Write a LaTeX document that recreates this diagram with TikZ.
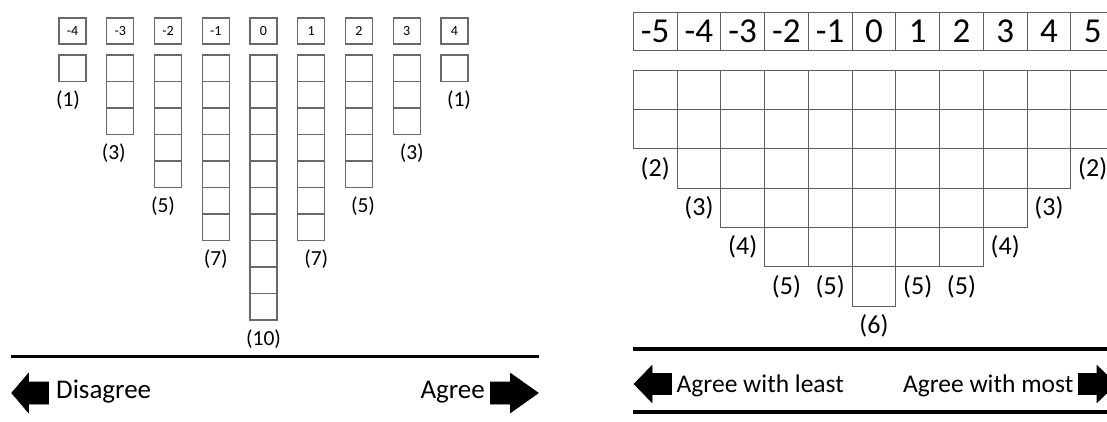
\documentclass[tikz,border=0pt]{standalone}
\usepackage{fontspec}
\setmainfont{Carlito}
\definecolor{boxgray}{RGB}{105,105,105}
\definecolor{gridgray}{RGB}{95,95,95}
\begin{document}
\begin{tikzpicture}[x=1pt,y=-1pt,
  lhead/.style={draw=boxgray,line width=1.1pt,minimum width=27pt,minimum height=26pt,inner sep=0pt,outer sep=0pt,font=\fontsize{14}{16}\selectfont},
  lcell/.style={draw=boxgray,line width=1.1pt,minimum width=27pt,minimum height=26.5pt,inner sep=0pt,outer sep=0pt},
  llab/.style={inner sep=0pt,font=\fontsize{21.5}{25}\selectfont},
  rhead/.style={draw=gridgray,line width=0.9pt,minimum width=43.75pt,minimum height=38pt,inner sep=0pt,outer sep=0pt,font=\fontsize{35}{40}\selectfont},
  rcell/.style={draw=gridgray,line width=0.9pt,minimum width=43.75pt,minimum height=39.33pt,inner sep=0pt,outer sep=0pt},
  rlab/.style={inner sep=0pt,font=\fontsize{26}{30}\selectfont},
  btext/.style={inner sep=0pt,font=\fontsize{27}{32}\selectfont},
  rbtext/.style={inner sep=0pt,font=\fontsize{25.5}{30}\selectfont},
  bar/.style={line width=3.2pt,black},
  blockarrow/.style={fill=black,draw=black,line width=0.6pt,line join=miter}
]
\useasboundingbox (0,0) rectangle (1107,421);
\clip (0,0) rectangle (1107,421);

% ---------- left diagram ----------
\foreach \v/\cnt/\dx [count=\i from 0] in {-4/1/-4.5,-3/3/-6.5,-2/5/-5,-1/7/0,0/10/0,1/7/5,2/5/4,3/3/5,4/1/4.5}{
  \pgfmathsetmacro{\cx}{59+47.75*\i+13.5}
  \node[lhead] (LH\i) at (\cx,31) {\v};
  \foreach \r in {1,...,\cnt}{
    \node[lcell] (LC\i-\r) at (\cx,{55+26.5*(\r-0.5)}) {};
  }
  \node[llab] (LL\i) at ({\cx+\dx},{55+26.5*\cnt+19}) {(\cnt)};
}
\coordinate (lbarA) at (11,356.7);
\coordinate (lbarB) at (538.5,356.7);
\draw[bar] (lbarA) -- (lbarB);
% left arrow
\draw[blockarrow] (11.7,393) -- (28.5,373.3) -- (28.5,382) -- (48.5,382) -- (48.5,404) -- (28.5,404) -- (28.5,412.7) -- cycle;
\node[btext,anchor=west] (dis) at (56,392) {Disagree};
\node[btext,anchor=east] (agr) at (485,392) {Agree};
% right arrow
\draw[blockarrow] (538.3,393) -- (510.5,373.3) -- (510.5,382) -- (490.5,382) -- (490.5,404) -- (510.5,404) -- (510.5,412.7) -- cycle;

% ---------- right diagram ----------
\foreach \v/\cnt [count=\i from 0] in {-5/2,-4/3,-3/4,-2/5,-1/5,0/6,1/5,2/5,3/4,4/3,5/2}{
  \pgfmathsetmacro{\cx}{633.3+43.75*(\i+0.5)}
  \node[rhead] (RH\i) at (\cx,31) {\v};
  \foreach \r in {1,...,\cnt}{
    \node[rcell] (RC\i-\r) at (\cx,{70+39.33*(\r-0.5)}) {};
  }
  \node[rlab] (RL\i) at (\cx,{70+39.33*(\cnt+0.5)}) {(\cnt)};
}
\coordinate (rbar1A) at (633,348.5);
\coordinate (rbar1B) at (1107,348.5);
\coordinate (rbar2A) at (633,411.5);
\coordinate (rbar2B) at (1107,411.5);
\draw[bar,line width=4pt] (rbar1A) -- (rbar1B);
\draw[bar,line width=4pt] (rbar2A) -- (rbar2B);
\draw[blockarrow] (634,384) -- (652,365.5) -- (652,373.5) -- (671.5,373.5) -- (671.5,394.5) -- (652,394.5) -- (652,402.5) -- cycle;
\node[rbtext,anchor=west] (least) at (676.5,386) {Agree with least};
\node[rbtext,anchor=east] (most) at (1073.5,386) {Agree with most};
\draw[blockarrow] (1116,384) -- (1097,365.5) -- (1097,373.5) -- (1078.5,373.5) -- (1078.5,394.5) -- (1097,394.5) -- (1097,402.5) -- cycle;
\end{tikzpicture}
\end{document}
